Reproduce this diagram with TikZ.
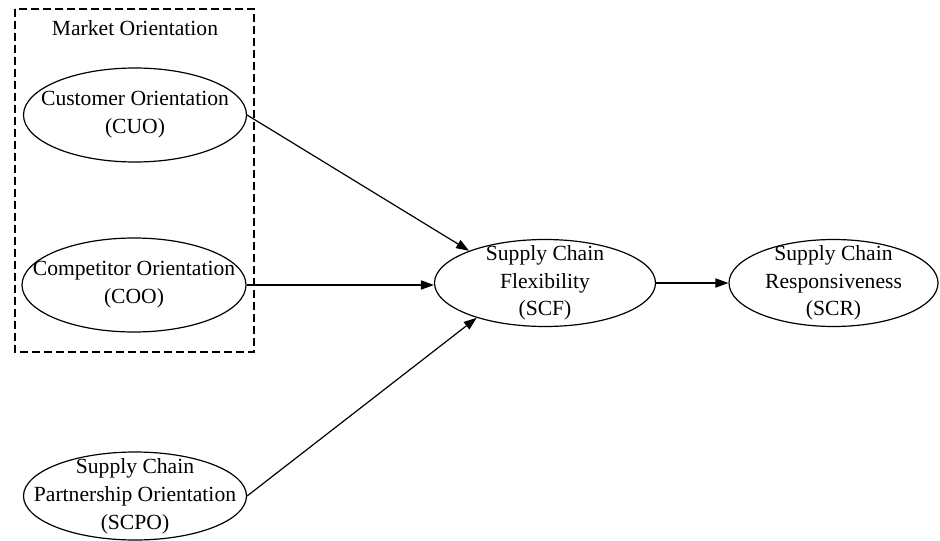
\documentclass[tikz,border=0pt]{standalone}
\usepackage{fontspec}
\setmainfont{Liberation Serif}
\usetikzlibrary{shapes.geometric,arrows.meta}

\begin{document}
\begin{tikzpicture}[x=0.5pt,y=-0.5pt,
  construct/.style={draw,ellipse,line width=0.6pt,inner sep=0pt},
  caption/.style={align=center,inner sep=0pt,
    font=\fontsize{10.8pt}{13.9pt}\selectfont},
  link/.style={line width=0.6pt,-{Triangle[length=6.5pt,width=4.6pt]}},
  group/.style={draw,line width=0.6pt,dash pattern=on 4pt off 2pt}]
  \useasboundingbox (0,0) rectangle (940,540);

  % market orientation group
  \draw[group] (15,9) rectangle (254,352);
  \node[caption] (mo) at (135,28) {Market Orientation};

  % constructs: outline ellipses
  \node[construct,minimum width=111.5pt,minimum height=47pt] (cuo) at (135,115) {};
  \node[construct,minimum width=112pt,minimum height=47pt] (coo) at (134,285) {};
  \node[construct,minimum width=111.5pt,minimum height=44pt] (scpo) at (135,496) {};
  \node[construct,minimum width=110.5pt,minimum height=43.5pt] (scf) at (545,283) {};
  \node[construct,minimum width=104.5pt,minimum height=43.5pt] (scr) at (833.5,283) {};

  % construct names
  \node[caption] (cuo-t) at (cuo) {Customer Orientation\\(CUO)};
  \node[caption] (coo-t) at (coo) {Competitor Orientation\\(COO)};
  \node[caption] (scpo-t) at (scpo) {Supply Chain\\Partnership Orientation\\(SCPO)};
  \node[caption] (scf-t) at (scf) {Supply Chain\\Flexibility\\(SCF)};
  \node[caption] (scr-t) at (scr) {Supply Chain\\Responsiveness\\(SCR)};

  % hypothesised paths
  \draw[link] (cuo.east) -- (scf.157);
  \draw[link] (coo.east) -- (coo.east -| scf.west);
  \draw[link] (scpo.east) -- (scf.207);
  \draw[link] (scf.east) -- (scr.west);
\end{tikzpicture}
\end{document}
